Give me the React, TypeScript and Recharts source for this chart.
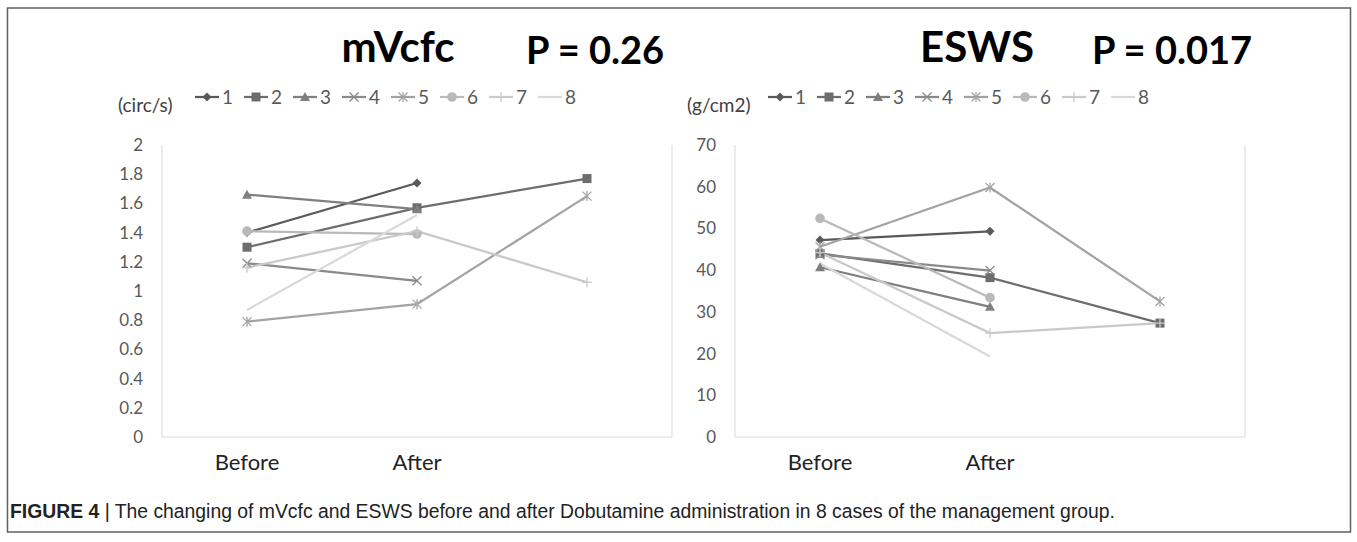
import { LineChart, Line, XAxis, YAxis, CartesianGrid, ReferenceLine } from "recharts";

// categories on the x axis (Excel left the third one unnamed)
const categories = ["Before", "After", ""];
const seriesNames = ["1", "2", "3", "4", "5", "6", "7", "8"];
const seriesColors = ["#595959", "#6d6d6d", "#7f7f7f", "#8a8a8a", "#a3a3a3", "#b9b9b9", "#c9c9c9", "#d9d9d9"];
const seriesShapes = ["diamond", "square", "triangle", "cross", "star", "circle", "plus", "none"];

// mVcfc (circ/s)
const mvcfc1 = [1.4, 1.74, null];
const mvcfc2 = [1.3, 1.57, 1.77];
const mvcfc3 = [1.66, 1.56, null];
const mvcfc4 = [1.19, 1.07, null];
const mvcfc5 = [0.79, 0.91, 1.65];
const mvcfc6 = [1.41, 1.39, null];
const mvcfc7 = [1.16, 1.41, 1.06];
const mvcfc8 = [0.87, 1.52, null];
const mvcfcTicks = [0, 0.2, 0.4, 0.6, 0.8, 1, 1.2, 1.4, 1.6, 1.8, 2];

// ESWS (g/cm2)
const esws1 = [47.2, 49.3, null];
const esws2 = [44.0, 38.2, 27.3];
const esws3 = [40.7, 31.2, null];
const esws4 = [43.7, 39.9, null];
const esws5 = [45.6, 59.8, 32.5];
const esws6 = [52.4, 33.4, null];
const esws7 = [44.2, 24.9, 27.3];
const esws8 = [41.6, 19.3, null];
const eswsTicks = [0, 10, 20, 30, 40, 50, 60, 70];

const bandTicks = [0, 1, 2, 3];
const labelTicks = [0.5, 1.5, 2.5];

const chartFont = "Lato, 'Open Sans', sans-serif";

const buildRows = (series) =>
  categories.map((c, i) => {
    const row = { x: i + 0.5, label: c };
    series.forEach((s, k) => {
      row[`s${k + 1}`] = s[i];
    });
    return row;
  });

const mvcfcRows = buildRows([mvcfc1, mvcfc2, mvcfc3, mvcfc4, mvcfc5, mvcfc6, mvcfc7, mvcfc8]);
const eswsRows = buildRows([esws1, esws2, esws3, esws4, esws5, esws6, esws7, esws8]);

const Marker = ({ shape, cx, cy, color }) => {
  if (cx == null || cy == null || Number.isNaN(cy)) return <g />;
  switch (shape) {
    case "diamond":
      return <path d={`M${cx},${cy - 4.5}L${cx + 4.5},${cy}L${cx},${cy + 4.5}L${cx - 4.5},${cy}Z`} fill={color} />;
    case "square":
      return <rect x={cx - 4.5} y={cy - 4.5} width={9} height={9} fill={color} />;
    case "triangle":
      return <path d={`M${cx},${cy - 5}L${cx + 5},${cy + 4}L${cx - 5},${cy + 4}Z`} fill={color} />;
    case "cross":
      return (
        <g stroke={color} strokeWidth={1.3}>
          <line x1={cx - 4.5} y1={cy - 4.5} x2={cx + 4.5} y2={cy + 4.5} />
          <line x1={cx - 4.5} y1={cy + 4.5} x2={cx + 4.5} y2={cy - 4.5} />
        </g>
      );
    case "star":
      return (
        <g stroke={color} strokeWidth={1.3}>
          <line x1={cx - 4.5} y1={cy - 4.5} x2={cx + 4.5} y2={cy + 4.5} />
          <line x1={cx - 4.5} y1={cy + 4.5} x2={cx + 4.5} y2={cy - 4.5} />
          <line x1={cx} y1={cy - 5} x2={cx} y2={cy + 5} />
        </g>
      );
    case "circle":
      return <circle cx={cx} cy={cy} r={4.8} fill={color} />;
    case "plus":
      return (
        <g stroke={color} strokeWidth={1.3}>
          <line x1={cx - 5} y1={cy} x2={cx + 5} y2={cy} />
          <line x1={cx} y1={cy - 5} x2={cx} y2={cy + 5} />
        </g>
      );
    default:
      return <g />;
  }
};

const Panel = ({ rows, ticks, left, marginLeft, marginRight }) => (
  <div style={{ position: "absolute", left, top: 0 }}>
    <LineChart
      width={690}
      height={490}
      data={rows}
      margin={{ top: 145, right: marginRight, bottom: 0, left: marginLeft }}
    >
      <CartesianGrid horizontal={false} stroke="#d9d9d9" />
      <XAxis
        dataKey="x"
        type="number"
        domain={[0, 3]}
        ticks={bandTicks}
        tick={false}
        tickLine={false}
        axisLine={false}
        height={0}
      />
      <XAxis
        xAxisId="lbl"
        dataKey="x"
        type="number"
        domain={[0, 3]}
        ticks={labelTicks}
        tickFormatter={(v) => categories[Math.floor(v)]}
        axisLine={false}
        tickLine={false}
        tickSize={0}
        tickMargin={17}
        height={53}
        tick={{ fill: "#222", fontSize: 22, fontFamily: chartFont }}
      />
      <YAxis
        domain={[ticks[0], ticks[ticks.length - 1]]}
        ticks={ticks}
        axisLine={false}
        tickLine={false}
        tickSize={0}
        tickMargin={19}
        width={50}
        tick={{ fill: "#595959", fontSize: 17, fontFamily: chartFont }}
      />
      <ReferenceLine y={ticks[0]} stroke="#d9d9d9" strokeWidth={1.2} />
      {seriesNames.map((name, k) => (
        <Line
          key={name}
          dataKey={`s${k + 1}`}
          name={name}
          stroke={seriesColors[k]}
          strokeWidth={2.25}
          isAnimationActive={false}
          activeDot={false}
          dot={(p) => <Marker key={`${name}-${p.index}`} shape={seriesShapes[k]} cx={p.cx} cy={p.cy} color={seriesColors[k]} />}
        />
      ))}
    </LineChart>
  </div>
);

const LegendRow = ({ x0, y }) => (
  <g>
    {seriesNames.map((name, k) => {
      const x = x0 + k * 49;
      return (
        <g key={name}>
          <line x1={x} y1={y} x2={x + 24} y2={y} stroke={seriesColors[k]} strokeWidth={2.25} />
          <Marker shape={seriesShapes[k]} cx={x + 12} cy={y} color={seriesColors[k]} />
          <text x={x + 27} y={y + 7} fontSize={19} fill="#595959" fontFamily={chartFont}>
            {name}
          </text>
        </g>
      );
    })}
  </g>
);

export default function App() {
  return (
    <div style={{ position: "absolute", left: 0, top: 0, width: 1357, height: 542, background: "#fff" }}>
      <svg width={1357} height={542} style={{ position: "absolute", left: 0, top: 0 }}>
        <rect x={7.5} y={8} width={1343} height={524} fill="none" stroke="#606060" strokeWidth={1.5} />
        <text x={398} y={62} textAnchor="middle" fontSize={42} fontWeight={700} fontFamily={chartFont} fill="#000">
          mVcfc
        </text>
        <text x={595} y={64} textAnchor="middle" fontSize={38} fontWeight={700} fontFamily={chartFont} fill="#000">
          P = 0.26
        </text>
        <text x={977} y={62} textAnchor="middle" fontSize={42} fontWeight={700} fontFamily={chartFont} fill="#000">
          ESWS
        </text>
        <text x={1172} y={64} textAnchor="middle" fontSize={38} fontWeight={700} fontFamily={chartFont} fill="#000">
          P = 0.017
        </text>
        <text x={118} y={112} fontSize={19} fill="#404040" fontFamily={chartFont}>
          (circ/s)
        </text>
        <text x={687} y={112} fontSize={19} fill="#404040" fontFamily={chartFont}>
          (g/cm2)
        </text>
        <LegendRow x0={195} y={97} />
        <LegendRow x0={768} y={97} />
        <text
          x={10}
          y={518}
          fontSize={20}
          fill="#222"
          textLength={1105}
          lengthAdjust="spacingAndGlyphs"
          fontFamily="'Liberation Sans Narrow', 'Liberation Sans', Arial, sans-serif"
        >
          <tspan fontWeight={700}>FIGURE 4</tspan>
          <tspan> | The changing of mVcfc and ESWS before and after Dobutamine administration in 8 cases of the management group.</tspan>
        </text>
      </svg>
      <Panel rows={mvcfcRows} ticks={mvcfcTicks} left={0} marginLeft={112} marginRight={18} />
      <Panel rows={eswsRows} ticks={eswsTicks} left={680} marginLeft={5} marginRight={125} />
    </div>
  );
}
